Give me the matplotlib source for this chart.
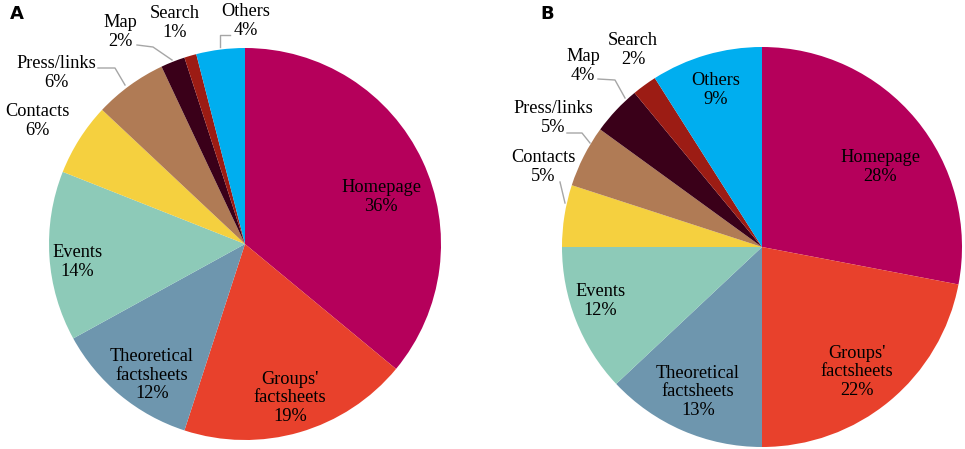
import matplotlib.pyplot as plt

categories = ['Homepage', "Groups'\nfactsheets", 'Theoretical\nfactsheets', 'Events',
              'Contacts', 'Press/links', 'Map', 'Search', 'Others']
share_a = [36, 19, 12, 14, 6, 6, 2, 1, 4]
share_b = [28, 22, 13, 12, 5, 5, 4, 2, 9]
colors = ['#B5005B', '#E8412C', '#6E96AE', '#8DCAB8', '#F5D03F',
          '#B07B55', '#3A0019', '#9C1C14', '#00AEEF']

W, H = 965, 449

# label centres in pixel coords (x, y from top)
label_pos_a = [(381, 197), (290, 398), (152, 375), (77, 262), (37, 121),
               (56, 73), (120, 32), (175, 23), (246, 21)]
label_pos_b = [(880, 167), (857, 372), (698, 392), (600, 301), (543, 167),
               (553, 118), (583, 66), (633, 50), (716, 90)]
leaders_a = [[(98, 68), (115, 68), (125, 85)],
             [(137, 45), (153, 47), (172, 60)],
             [(230, 35), (220, 35), (220, 47)]]
leaders_b = [[(560, 182), (565, 203)],
             [(567, 133), (582, 133), (590, 143)],
             [(598, 79), (615, 80), (625, 98)]]

plt.rcParams['font.family'] = ['Liberation Serif', 'DejaVu Serif']

fig = plt.figure(figsize=(W / 100, H / 100), dpi=100)
ax = fig.add_axes([0, 0, 1, 1])


def draw_pie(values, center, radius, label_pos, leaders):
    # y axis is inverted: start at -90 (screen top), counterclock in data = clockwise on screen
    ax.pie(values, colors=colors, startangle=-90, counterclock=True,
           center=center, radius=radius, frame=True)
    for i, (name, v) in enumerate(zip(categories, values)):
        x, y = label_pos[i]
        ax.text(x, y, f'{name}\n{v}%', ha='center', va='center', fontsize=13.2,
                linespacing=1.1, color='black')
    for pts in leaders:
        ax.plot([p[0] for p in pts], [p[1] for p in pts], color='#A6A6A6', lw=1)


draw_pie(share_a, (245, 244), 196, label_pos_a, leaders_a)
draw_pie(share_b, (762, 247), 200, label_pos_b, leaders_b)
ax.set_xlim(0, W)
ax.set_ylim(H, 0)
ax.set_aspect('equal')
ax.axis('off')

fig.text(10 / W, 1 - 14 / H, 'A', fontsize=13, fontweight='bold',
         family='DejaVu Sans', ha='left', va='center')
fig.text(540 / W, 1 - 14 / H, 'B', fontsize=13, fontweight='bold',
         family='DejaVu Sans', ha='left', va='center')

fig.savefig('out.png', dpi=100)
